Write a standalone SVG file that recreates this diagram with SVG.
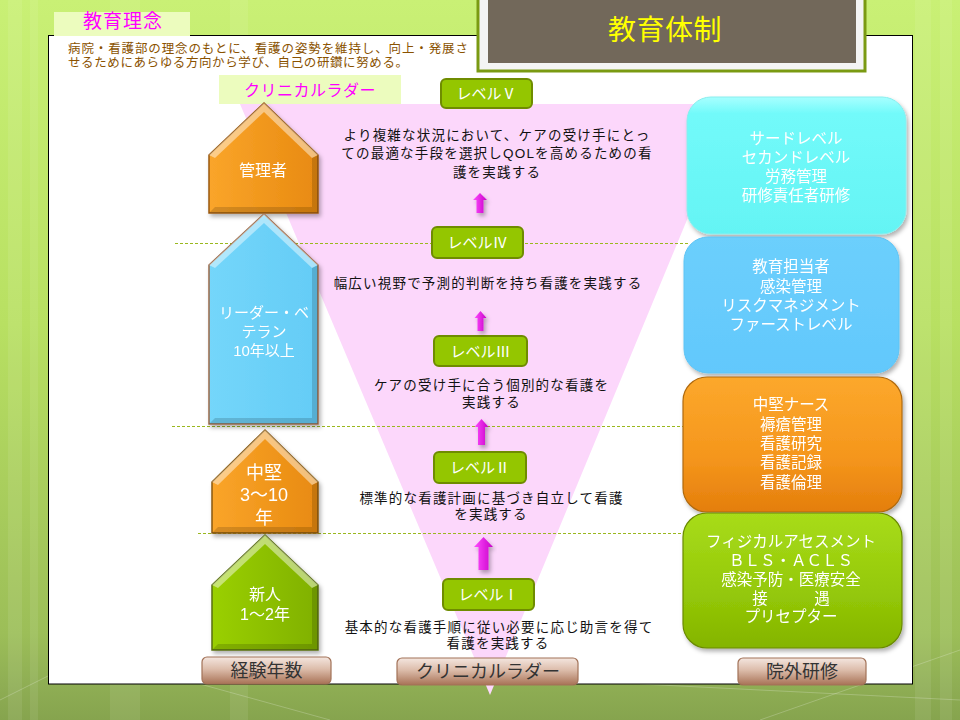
<svg xmlns="http://www.w3.org/2000/svg" width="960" height="720" viewBox="0 0 960 720">
<defs>
<linearGradient id="bg" x1="0" y1="0" x2="0" y2="1">
<stop offset="0" stop-color="#c9f075"/>
<stop offset="0.45" stop-color="#b8e062"/>
<stop offset="0.88" stop-color="#9cbe58"/>
<stop offset="0.95" stop-color="#8fae54"/>
<stop offset="1" stop-color="#86a44e"/>
</linearGradient>
<linearGradient id="gOrange" x1="0" y1="0" x2="1" y2="0">
<stop offset="0" stop-color="#faa52a"/>
<stop offset="1" stop-color="#e88a10"/>
</linearGradient>
<linearGradient id="gBlue" x1="0" y1="0" x2="1" y2="0">
<stop offset="0" stop-color="#74d6fa"/>
<stop offset="1" stop-color="#64ccf6"/>
</linearGradient>
<linearGradient id="gGreen" x1="0" y1="0" x2="1" y2="0">
<stop offset="0" stop-color="#9ad000"/>
<stop offset="1" stop-color="#80b000"/>
</linearGradient>
<linearGradient id="gArrow" x1="0" y1="0" x2="1" y2="0">
<stop offset="0" stop-color="#ff4dff"/>
<stop offset="1" stop-color="#c800c8"/>
</linearGradient>
<linearGradient id="gCyanBox" x1="0" y1="0" x2="0" y2="1">
<stop offset="0" stop-color="#a8ffff"/>
<stop offset="0.12" stop-color="#72fafa"/>
<stop offset="1" stop-color="#64f4f4"/>
</linearGradient>
<linearGradient id="gBlueBox" x1="0" y1="0" x2="0" y2="1">
<stop offset="0" stop-color="#6ccffc"/>
<stop offset="1" stop-color="#62c8fc"/>
</linearGradient>
<linearGradient id="gOrangeBox" x1="0" y1="0" x2="0" y2="1">
<stop offset="0" stop-color="#fca82c"/>
<stop offset="0.6" stop-color="#f5961c"/>
<stop offset="1" stop-color="#e47e0c"/>
</linearGradient>
<linearGradient id="gGreenBox" x1="0" y1="0" x2="0" y2="1">
<stop offset="0" stop-color="#a8dc1a"/>
<stop offset="0.6" stop-color="#94c808"/>
<stop offset="1" stop-color="#84b400"/>
</linearGradient>
<linearGradient id="gBtn" x1="0" y1="0" x2="0" y2="1">
<stop offset="0" stop-color="#f4e6df"/>
<stop offset="0.45" stop-color="#dcbcaa"/>
<stop offset="1" stop-color="#a87256"/>
</linearGradient>
<filter id="sh" x="-10%" y="-10%" width="130%" height="130%">
<feDropShadow dx="2" dy="3" stdDeviation="2" flood-color="#000" flood-opacity="0.3"/>
</filter>
<style>
.jp{font-family:"Liberation Sans","Noto Sans CJK JP",sans-serif;}
.body{font-size:13.5px;letter-spacing:1.2px;fill:#111;text-anchor:middle;}
.wt{fill:#fff;text-anchor:middle;}
.lvl rect{fill:#94c600;stroke:#6f8c00;stroke-width:2;}
.lvl text{font-size:15px;fill:#fff;text-anchor:middle;}
.hl{fill:#fff;opacity:0.45;}
.dk{fill:#000;opacity:0.15;}
.dash{stroke:#9ab81e;stroke-width:1;stroke-dasharray:3 2;fill:none;}
.btn rect{fill:url(#gBtn);stroke:#a27258;stroke-width:1.2;}
.btn text{font-size:18px;fill:#333;text-anchor:middle;}
.rbox text{font-size:15.5px;fill:#fff;text-anchor:middle;}
.stripe{fill:#fff;opacity:0.08;}
</style>
</defs>

<!-- background -->
<rect x="0" y="0" width="960" height="720" fill="url(#bg)"/>
<rect class="stripe" x="8" y="0" width="14" height="720"/>
<rect class="stripe" x="30" y="0" width="8" height="720"/>
<rect class="stripe" x="110" y="0" width="30" height="720"/>
<rect class="stripe" x="230" y="0" width="18" height="720"/>
<rect class="stripe" x="915" y="0" width="16" height="720"/>
<rect class="stripe" x="940" y="0" width="12" height="720"/>
<g stroke="#fff" stroke-opacity="0.22" stroke-width="1" fill="none">
<path d="M0,700 L120,640"/>
<path d="M640,684 L960,700"/>
<path d="M760,720 L960,650"/>
<path d="M200,684 L330,720"/>
</g>

<!-- white panel -->
<rect x="48.5" y="35.5" width="864" height="648.5" fill="#fff" stroke="#000" stroke-width="1"/>

<!-- header: 教育理念 -->
<g id="philosophy">
<rect x="54" y="12" width="136" height="24" fill="#ecfcbe"/>
<text class="jp" x="123" y="28" font-size="19" fill="#ff00ff" text-anchor="middle" letter-spacing="1">教育理念</text>
<text class="jp" x="68" y="53" font-size="12.5" fill="#8a5200" textLength="400" lengthAdjust="spacing">病院・看護部の理念のもとに、看護の姿勢を維持し、向上・発展さ</text>
<text class="jp" x="68" y="67" font-size="12.5" fill="#8a5200" textLength="340" lengthAdjust="spacing">せるためにあらゆる方向から学び、自己の研鑽に努める。</text>
</g>

<!-- title -->
<g id="title">
<rect x="478" y="-5" width="387" height="76" fill="#f4f4f4" stroke="#7a9a12" stroke-width="3"/>
<rect x="488" y="0" width="368" height="63" fill="#72685a"/>
<text class="jp" x="665" y="40" font-size="28" fill="#ffff00" text-anchor="middle" letter-spacing="0.5">教育体制</text>
</g>

<!-- funnel -->
<polygon points="240,104 735,104 490,695" fill="#fcd7fb"/>

<!-- label クリニカルラダー -->
<g id="ladder-label">
<rect x="219" y="75" width="182" height="29" fill="#ecfcbe"/>
<text class="jp" x="310" y="96" font-size="16" fill="#ff00ff" text-anchor="middle" letter-spacing="0.5">クリニカルラダー</text>
</g>

<!-- dashed separators -->
<g id="separators">
<line class="dash" x1="175" y1="243.5" x2="690" y2="243.5"/>
<line class="dash" x1="172" y1="426.5" x2="686" y2="426.5"/>
<line class="dash" x1="198" y1="533.5" x2="686" y2="533.5"/>
</g>

<!-- houses -->
<g id="house-kanrisha" filter="url(#sh)">
<path d="M209,155 L264,103 L318,155 L318,213 L209,213 Z" fill="url(#gOrange)" stroke="#9a5a10" stroke-width="1.5"/>
<path class="hl" d="M264,103 L318,155 L312,158 L264,112 Z"/>
<path class="dk" d="M318,155 L318,213 L312,207 L312,158 Z"/>
<path class="dk" d="M318,213 L209,213 L215,207 L312,207 Z"/>
<path class="hl" d="M209,155 L264,103 L264,112 L215,158 Z" opacity="0.2"/>
<text class="jp wt" x="263" y="176" font-size="16">管理者</text>
</g>
<g id="house-leader" filter="url(#sh)">
<path d="M209,265 L264,214 L318,265 L318,424 L209,424 Z" fill="url(#gBlue)" stroke="#9a6a4a" stroke-width="1.5"/>
<path class="hl" d="M264,214 L318,265 L312,268 L264,223 Z"/>
<path class="dk" d="M318,265 L318,424 L312,418 L312,268 Z"/>
<path class="dk" d="M318,424 L209,424 L215,418 L312,418 Z"/>
<path class="hl" d="M209,265 L264,214 L264,223 L215,268 Z" opacity="0.2"/>
<text class="jp wt" x="264" y="318" font-size="15">リーダー・ベ</text>
<text class="jp wt" x="264" y="337" font-size="15">テラン</text>
<text class="jp wt" x="264" y="356" font-size="15">10年以上</text>
</g>
<g id="house-chuken" filter="url(#sh)">
<path d="M212,482 L265,430 L318,482 L318,533 L212,533 Z" fill="url(#gOrange)" stroke="#8a5a10" stroke-width="1.5"/>
<path class="hl" d="M265,430 L318,482 L312,485 L265,439 Z"/>
<path class="dk" d="M318,482 L318,533 L312,527 L312,485 Z"/>
<path class="dk" d="M318,533 L212,533 L218,527 L312,527 Z"/>
<path class="hl" d="M212,482 L265,430 L265,439 L218,485 Z" opacity="0.2"/>
<text class="jp wt" x="264" y="479" font-size="18">中堅</text>
<text class="jp wt" x="264" y="501" font-size="18">3〜10</text>
<text class="jp wt" x="264" y="524" font-size="18">年</text>
</g>
<g id="house-shinjin" filter="url(#sh)">
<path d="M212,585 L265,535 L318,585 L318,650 L212,650 Z" fill="url(#gGreen)" stroke="#5a7010" stroke-width="1.5"/>
<path class="hl" d="M265,535 L318,585 L312,588 L265,544 Z"/>
<path class="dk" d="M318,585 L318,650 L312,644 L312,588 Z"/>
<path class="dk" d="M318,650 L212,650 L218,644 L312,644 Z"/>
<path class="hl" d="M212,585 L265,535 L265,544 L218,588 Z" opacity="0.2"/>
<text class="jp wt" x="265" y="600" font-size="16">新人</text>
<text class="jp wt" x="265" y="620" font-size="16">1〜2年</text>
</g>

<!-- levels -->
<g id="level-5" class="lvl jp">
<rect x="441" y="79" width="91" height="29" rx="5"/>
<text x="486.5" y="99">レベルⅤ</text>
</g>
<g id="level-4" class="lvl jp">
<rect x="432" y="227" width="91" height="31" rx="5"/>
<text x="477.5" y="248">レベルⅣ</text>
</g>
<g id="level-3" class="lvl jp">
<rect x="434" y="336" width="93" height="30" rx="5"/>
<text x="480.5" y="356.5">レベルⅢ</text>
</g>
<g id="level-2" class="lvl jp">
<rect x="434" y="452" width="92" height="31" rx="5"/>
<text x="480" y="473">レベルⅡ</text>
</g>
<g id="level-1" class="lvl jp">
<rect x="443" y="579" width="91" height="31" rx="5"/>
<text x="488.5" y="600">レベルⅠ</text>
</g>

<!-- level descriptions -->
<g id="desc-5" class="jp body">
<text x="497" y="140">より複雑な状況において、ケアの受け手にとっ</text>
<text x="497" y="158">ての最適な手段を選択しQOLを高めるための看</text>
<text x="497" y="177">護を実践する</text>
</g>
<g id="desc-4" class="jp body">
<text x="488" y="288">幅広い視野で予測的判断を持ち看護を実践する</text>
</g>
<g id="desc-3" class="jp body">
<text x="491.5" y="390">ケアの受け手に合う個別的な看護を</text>
<text x="491.5" y="407">実践する</text>
</g>
<g id="desc-2" class="jp body">
<text x="491.5" y="503">標準的な看護計画に基づき自立して看護</text>
<text x="491" y="519">を実践する</text>
</g>
<g id="desc-1" class="jp body">
<text x="499" y="632">基本的な看護手順に従い必要に応じ助言を得て</text>
<text x="498" y="648">看護を実践する</text>
</g>

<!-- connectors: up arrows -->
<g id="connectors" fill="url(#gArrow)" filter="url(#sh)">
<path d="M480,193 L487,200 L483.5,200 L483.5,213 L476.5,213 L476.5,200 L473,200 Z"/>
<path d="M480.5,311 L486.5,318 L483.5,318 L483.5,331 L477.5,331 L477.5,318 L474.5,318 Z"/>
<path d="M481.5,419 L488.5,427 L485,427 L485,445 L478,445 L478,427 L474.5,427 Z"/>
<path d="M483.5,537 L493,547 L488.5,547 L488.5,570 L478.5,570 L478.5,547 L474,547 Z"/>
</g>

<!-- right boxes -->
<g id="training-third" class="rbox jp" filter="url(#sh)">
<rect x="687" y="97" width="219" height="137" rx="24" fill="url(#gCyanBox)" stroke="#8aeeee" stroke-width="1"/>
<text x="796" y="144">サードレベル</text>
<text x="796" y="163">セカンドレベル</text>
<text x="796" y="182">労務管理</text>
<text x="796" y="201">研修責任者研修</text>
</g>
<g id="training-first" class="rbox jp" filter="url(#sh)">
<rect x="684" y="237" width="215" height="136" rx="24" fill="url(#gBlueBox)" stroke="#5ec4f4" stroke-width="1"/>
<text x="791" y="272">教育担当者</text>
<text x="791" y="292">感染管理</text>
<text x="791" y="311">リスクマネジメント</text>
<text x="791" y="330">ファーストレベル</text>
</g>
<g id="training-mid" class="rbox jp" filter="url(#sh)">
<rect x="683" y="377" width="219" height="135" rx="24" fill="url(#gOrangeBox)" stroke="#b06a10" stroke-width="1.2"/>
<text x="791" y="410">中堅ナース</text>
<text x="791" y="430">褥瘡管理</text>
<text x="791" y="449">看護研究</text>
<text x="791" y="468">看護記録</text>
<text x="791" y="488">看護倫理</text>
</g>
<g id="training-new" class="rbox jp" filter="url(#sh)">
<rect x="683" y="513" width="219" height="135" rx="24" fill="url(#gGreenBox)" stroke="#6a8a00" stroke-width="1.2"/>
<text x="791" y="547">フィジカルアセスメント</text>
<text x="791" y="566">ＢＬＳ・ＡＣＬＳ</text>
<text x="791" y="585">感染予防・医療安全</text>
<text x="791" y="604">接　　　遇</text>
<text x="791" y="622">プリセプター</text>
</g>

<!-- bottom labels -->
<g id="label-years" class="btn jp">
<rect x="202" y="657" width="129" height="27" rx="5"/>
<text x="266.5" y="677">経験年数</text>
</g>
<g id="label-ladder" class="btn jp">
<rect x="397" y="658" width="181" height="27" rx="5"/>
<text x="488" y="678">クリニカルラダー</text>
</g>
<g id="label-external" class="btn jp">
<rect x="738" y="658" width="128" height="27" rx="5"/>
<text x="802" y="678">院外研修</text>
</g>
</svg>
